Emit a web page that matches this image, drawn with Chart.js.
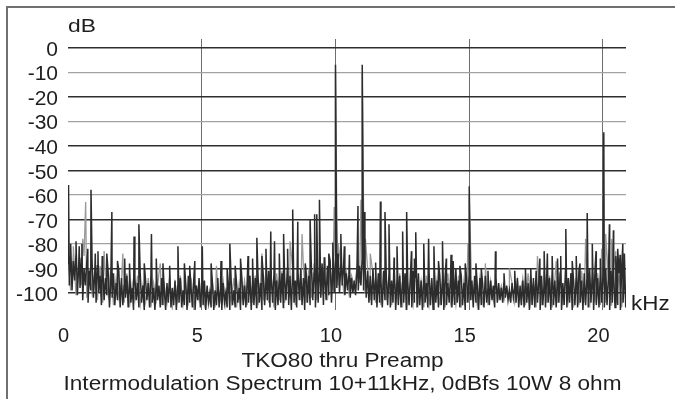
<!DOCTYPE html>
<html>
<head>
<meta charset="utf-8">
<title>TKO80 thru Preamp – Intermodulation Spectrum</title>
<script src="https://cdn.jsdelivr.net/npm/chart.js@4.4.1/dist/chart.umd.min.js"></script>
<style>
  html, body { margin: 0; padding: 0; background: #fff; }
  #wrap { position: relative; width: 675px; height: 399px; overflow: hidden; }
  #frame { position: absolute; left: 6px; top: 6px; width: 700px; height: 420px;
           border-left: 2px solid #707070; border-top: 2px solid #707070; box-sizing: border-box; }
  canvas { position: absolute; left: 0; top: 0; }
</style>
</head>
<body>
<div id="wrap">
  <div id="frame"></div>
  <canvas id="spec" width="675" height="399"></canvas>
</div>
<script>
// FFT bin spacing of the noise-floor arrays (kHz)
const FLOOR_STEP_DARK = 0.05;
const FLOOR_STEP_GRAY = 0.1;

// Channel 1 noise floor, dB, one value per 0.05 kHz (rows are 1 kHz)
const darkFloor = [
  -88,-97,-85,-99,-87,-95,-84,-101,-89,-98,-86,-103,-90,-97,-88,-104,-91,-99,-87,-102,
  -92,-104,-89,-100,-93,-105,-90,-103,-94,-101,-91,-106,-95,-102,-92,-105,-96,-103,-91,-106,
  -94,-105,-97,-102,-93,-106,-95,-104,-98,-107,-94,-103,-96,-106,-92,-104,-97,-107,-95,-103,
  -96,-106,-93,-104,-98,-107,-95,-103,-97,-106,-94,-105,-99,-107,-96,-104,-93,-106,-98,-105,
  -95,-107,-97,-104,-94,-106,-99,-105,-96,-107,-93,-104,-98,-106,-95,-107,-97,-103,-94,-106,
  -98,-105,-95,-107,-97,-104,-100,-106,-96,-107,-99,-105,-94,-106,-98,-107,-96,-104,-100,-106,
  -97,-107,-95,-105,-99,-106,-96,-104,-98,-107,-94,-105,-97,-106,-95,-104,-93,-107,-96,-105,
  -94,-106,-92,-104,-96,-107,-93,-105,-95,-103,-91,-106,-94,-104,-92,-107,-95,-105,-93,-104,
  -92,-106,-94,-103,-90,-105,-93,-107,-91,-104,-95,-106,-92,-103,-90,-105,-94,-107,-91,-104,
  -93,-105,-90,-103,-92,-106,-89,-104,-91,-102,-88,-105,-92,-103,-89,-101,-87,-104,-90,-100,
  -86,-98,-84,-100,-88,-97,-90,-101,-92,-99,-93,-102,-94,-100,-95,-101,-92,-99,-89,-97,
  -85,-99,-88,-102,-91,-104,-93,-105,-90,-103,-94,-106,-92,-104,-95,-106,-91,-103,-94,-105,
  -92,-106,-95,-104,-91,-107,-94,-105,-93,-106,-96,-104,-92,-107,-95,-105,-93,-106,-91,-104,
  -94,-106,-92,-105,-95,-107,-93,-104,-96,-106,-92,-105,-94,-107,-91,-104,-95,-106,-93,-105,
  -95,-107,-93,-105,-96,-104,-94,-106,-97,-105,-90,-104,-95,-106,-93,-105,-96,-107,-94,-104,
  -91,-103,-95,-106,-93,-104,-97,-107,-94,-105,-96,-106,-93,-104,-98,-105,-95,-103,-97,-106,
  -94,-104,-96,-103,-98,-104,-95,-102,-97,-103,-99,-104,-96,-102,-98,-104,-94,-106,-97,-105,
  -95,-106,-93,-104,-96,-107,-92,-105,-94,-106,-91,-104,-95,-107,-93,-105,-96,-106,-92,-104,
  -94,-107,-91,-105,-95,-106,-93,-104,-92,-107,-96,-105,-90,-106,-94,-104,-92,-107,-95,-105,
  -93,-106,-91,-104,-95,-107,-92,-105,-94,-106,-90,-104,-93,-107,-91,-105,-94,-106,-92,-104,
  -93,-106,-90,-105,-94,-107,-91,-104,-93,-106,-89,-105,-92,-107,-90,-104,-93,-106
];

// Channel 1 discrete components: carriers, IM products, harmonics (kHz / dB)
const darkPeakFreqs = [
  0.02, 0.86, 1.64, 2.47, 2.65, 3.12, 4.11, 4.74, 5.02, 5.72, 6.05, 6.45, 6.73,
  7.06, 7.40, 7.58, 7.72, 8.06, 8.21, 8.40, 8.59, 8.87, 9.05, 9.22, 9.30, 9.40, 9.58, 9.90,
  10.00, 10.20, 10.33, 10.52, 10.84, 11.00, 11.07, 11.50, 11.68, 11.85, 12.00, 12.19, 12.30,
  12.51, 12.66, 12.84, 13.00, 13.30, 13.48, 13.68, 14.00, 14.14, 14.32, 14.40,
  15.00, 15.25, 15.98, 17.30, 17.64, 17.80, 17.92, 18.10, 18.42, 18.61,
  19.14, 19.41, 19.60, 19.74, 20.03, 20.24, 20.39, 20.55, 20.64, 20.74
];
const darkPeakLevels = [
  -56, -58, -67, -77, -72, -76, -81, -87, -81, -87, -80, -86, -85,
  -77.5, -82, -75, -79, -76, -82, -66, -71, -88, -70, -68, -68, -62, -85.5, -79.5,
  -7, -76, -81, -84.5, -64.6, -7, -67, -87.6, -62.8, -67, -72, -85.6, -81,
  -75, -67, -83, -75.3, -80, -78, -81, -79, -86, -84.5, -87,
  -56.5, -88, -83, -90, -86, -83, -84, -85, -85, -74,
  -88, -67.5, -80, -83, -34.5, -72, -74.5, -82, -84.5, -80
];

// Channel 1 low-level spurs rising out of the floor (kHz / dB)
const darkSpurFreqs = [
  0.10, 0.30, 0.42, 0.52, 0.74, 1.02, 1.12, 1.28, 1.45, 1.85, 2.12, 2.30, 2.85,
  3.30, 3.55, 3.80, 4.35, 4.55, 5.35, 5.95, 6.25, 6.90, 7.25, 7.90, 9.75,
  12.95, 13.85, 14.65, 14.85, 15.45, 15.70, 16.30, 16.70, 17.10, 18.30, 18.85,
  19.00, 19.90, 20.48, 20.80
];
const darkSpurLevels = [
  -80, -79, -81, -80, -82, -84, -83, -85, -84, -87, -86, -88, -88,
  -86, -88, -89, -88, -89, -88, -90, -89, -86, -85, -84, -84,
  -86, -87, -89, -88, -90, -91, -92, -91, -90, -86, -87,
  -85, -86, -85, -84
];

// Channel 2 noise floor, dB, one value per 0.1 kHz
const grayFloor = [
  -86,-99,-84,-101,-88,-97,-85,-102,-90,-100,
  -91,-103,-89,-104,-93,-101,-90,-105,-94,-102,
  -95,-104,-92,-106,-96,-103,-93,-105,-97,-104,
  -94,-106,-96,-103,-92,-105,-97,-104,-95,-106,
  -96,-103,-93,-105,-97,-104,-94,-106,-98,-103,
  -95,-105,-99,-104,-96,-106,-98,-103,-95,-105,
  -97,-104,-94,-106,-96,-103,-95,-105,-93,-104,
  -93,-105,-95,-103,-91,-104,-94,-106,-92,-103,
  -91,-104,-93,-102,-90,-105,-92,-103,-89,-104,
  -90,-102,-88,-103,-91,-101,-87,-103,-89,-99,
  -85,-97,-88,-99,-91,-100,-93,-98,-90,-96,
  -86,-100,-90,-103,-92,-104,-94,-105,-91,-103,
  -93,-105,-95,-103,-92,-106,-94,-104,-96,-105,
  -92,-104,-95,-106,-93,-105,-96,-103,-94,-105,
  -94,-106,-92,-104,-96,-105,-93,-106,-95,-104,
  -92,-103,-96,-105,-94,-104,-97,-105,-95,-103,
  -95,-102,-97,-103,-98,-102,-96,-104,-95,-103,
  -94,-105,-92,-104,-96,-106,-93,-105,-91,-104,
  -93,-106,-95,-104,-91,-105,-94,-103,-92,-106,
  -94,-105,-91,-104,-93,-106,-90,-104,-92,-105,
  -91,-104,-93,-105,-89,-104,-92,-106,-91
];

// Channel 2 discrete components (kHz / dB)
const grayPeakFreqs = [
  0.20, 0.55, 0.66, 1.35, 2.05, 3.45, 5.55, 7.25, 8.30, 8.75,
  9.95, 10.00, 10.05, 10.10, 10.95, 11.00, 11.05, 11.12, 11.30,
  14.95, 15.00, 15.60, 16.50, 17.55, 18.25, 19.35, 19.95, 20.10, 20.32, 20.48
];
const grayPeakLevels = [
  -81, -78, -63, -83, -84, -88, -89, -84, -79, -76,
  -65, -10, -69, -80, -62, -10, -66, -78, -84,
  -80, -60, -88, -90, -85, -87, -78, -82, -76, -78, -83
];

// Axis ticks
const freqTicks = [0, 5, 10, 15, 20];
const levelTicks = [0, -10, -20, -30, -40, -50, -60, -70, -80, -90, -100];
// Grid shading per level line (d = dark, l = light)
const levelGridTone = { 0:'d', '-10':'l', '-20':'d', '-30':'l', '-40':'d', '-50':'d',
                        '-60':'l', '-70':'d', '-80':'l', '-90':'d', '-100':'d' };

const FREQ_MAX = 20.86;
const LEVEL_MIN = -107;
const LEVEL_MAX = 3.5;

function buildTrace(floor, step, lists) {
  const pts = floor.map((v, i) => ({ x: +(i * step).toFixed(3), y: v }));
  lists.forEach(([fs, ls]) => fs.forEach((f, i) => pts.push({ x: f, y: ls[i] })));
  pts.sort((a, b) => a.x - b.x);
  return pts;
}

const FONT = '"Liberation Sans", Arial, Helvetica, sans-serif';

function stretchText(ctx, text, x, y, size, sx, align) {
  ctx.save();
  ctx.font = size + 'px ' + FONT;
  ctx.fillStyle = '#1e1e1e';
  ctx.textBaseline = 'alphabetic';
  ctx.textAlign = align;
  ctx.translate(x, y);
  ctx.scale(sx, 1);
  ctx.fillText(text, 0, 0);
  ctx.restore();
}

// Unit labels and the two caption lines
const captionPlugin = {
  id: 'captions',
  afterDraw(chart) {
    const ctx = chart.ctx;
    const area = chart.chartArea;
    stretchText(ctx, 'dB', area.left, 32, 19, 1.2, 'left');
    stretchText(ctx, 'kHz', area.right + 5, 309.5, 20, 1.12, 'left');
    stretchText(ctx, 'TKO80 thru Preamp', 342.5, 366.5, 20, 1.13, 'center');
    stretchText(ctx, 'Intermodulation Spectrum 10+11kHz, 0dBfs 10W 8 ohm', 342.5, 389.5, 20, 1.13, 'center');
  }
};

new Chart(document.getElementById('spec'), {
  type: 'line',
  data: {
    datasets: [
      {
        label: 'Ch 1',
        data: buildTrace(darkFloor, FLOOR_STEP_DARK,
                         [[darkPeakFreqs, darkPeakLevels], [darkSpurFreqs, darkSpurLevels]]),
        borderColor: '#2c2c2c',
        borderWidth: 1.5,
        pointRadius: 0,
        tension: 0,
        order: 0
      },
      {
        label: 'Ch 2',
        data: buildTrace(grayFloor, FLOOR_STEP_GRAY, [[grayPeakFreqs, grayPeakLevels]]),
        borderColor: '#9a9a9a',
        borderWidth: 1.3,
        pointRadius: 0,
        tension: 0,
        order: 1
      }
    ]
  },
  options: {
    responsive: false,
    animation: false,
    devicePixelRatio: 1,
    layout: { padding: { left: 0, right: 49, top: 39, bottom: 0 } },
    plugins: { legend: { display: false }, tooltip: { enabled: false }, title: { display: false } },
    scales: {
      x: {
        type: 'linear',
        min: 0,
        max: FREQ_MAX,
        afterBuildTicks: s => { s.ticks = freqTicks.map(v => ({ value: v })); },
        afterFit: s => { s.height = 89; },
        border: { display: false },
        grid: {
          drawTicks: false,
          color: c => (c.tick && c.tick.value === 0) ? 'rgba(0,0,0,0)' : '#6e6e6e',
          lineWidth: 1
        },
        ticks: {
          autoSkip: false,
          padding: 14,
          labelOffset: -4.5,
          maxRotation: 0,
          color: '#1e1e1e',
          font: { family: FONT, size: 20 },
          callback: v => String(v)
        }
      },
      y: {
        min: LEVEL_MIN,
        max: LEVEL_MAX,
        afterBuildTicks: s => { s.ticks = levelTicks.map(v => ({ value: v })); },
        afterFit: s => { s.width = 68; },
        border: { display: false },
        grid: {
          drawTicks: false,
          color: c => {
            const t = c.tick ? levelGridTone[String(c.tick.value)] : null;
            return t === 'd' ? '#2e2e2e' : '#a2a2a2';
          },
          lineWidth: c => {
            const t = c.tick ? levelGridTone[String(c.tick.value)] : null;
            return t === 'd' ? 1.4 : 1.2;
          }
        },
        ticks: {
          autoSkip: false,
          padding: 10,
          labelOffset: 2.5,
          color: '#1e1e1e',
          font: { family: FONT, size: 21 },
          callback: v => String(v)
        }
      }
    }
  },
  plugins: [captionPlugin]
});
</script>
</body>
</html>
